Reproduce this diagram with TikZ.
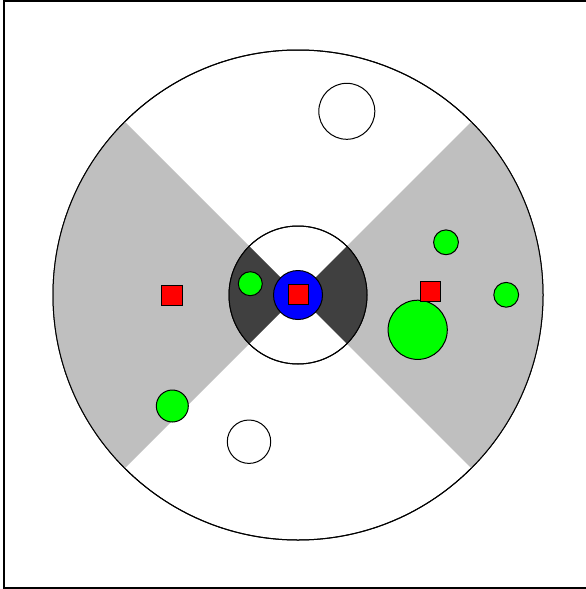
\documentclass[tikz,border=0pt]{standalone}
\begin{document}
\begin{tikzpicture}[x=1pt,y=-1pt,
  outline/.style={draw=black,line width=1pt},
  greendot/.style={outline,fill=green},
  whitedot/.style={outline,fill=white},
  redsq/.style={outline,fill=red},
  lightsector/.style={fill=black!25},
  darksector/.style={fill=black!75}]
\useasboundingbox (0,0) rectangle (586,589);
\fill[white] (0,0) rectangle (586,589);
\draw[line width=1.3pt] (4,1) rectangle (588,588);
% big disc
\coordinate (c) at (298,295);
\draw[outline,fill=white] (c) circle (245);
\fill[lightsector] (c) -- ++(-45:245) arc[start angle=-45,end angle=45,radius=245] -- cycle;
\fill[lightsector] (c) -- ++(135:245) arc[start angle=135,end angle=225,radius=245] -- cycle;
\draw[line width=1pt] (c) circle (245);
% inner disc
\draw[outline,fill=white] (c) circle (69);
\fill[darksector] (c) -- ++(-45:69) arc[start angle=-45,end angle=45,radius=69] -- cycle;
\fill[darksector] (c) -- ++(135:69) arc[start angle=135,end angle=225,radius=69] -- cycle;
\draw[line width=1pt] (c) circle (69);
% centre
\draw[outline,fill=blue] (c) circle (24.5);
\draw[redsq] (288.5,284.5) rectangle (308,304);
% inner green
\draw[greendot] (250.3,283.7) circle (12);
% white circles
\draw[whitedot] (346.8,111.3) circle (28);
\draw[whitedot] (249,441.7) circle (21.7);
% green dots
\draw[greendot] (172.3,406) circle (16);
\draw[greendot] (446,242.3) circle (12.4);
\draw[greendot] (506.2,294.8) circle (12.4);
\draw[greendot] (417.7,329.8) circle (29.6);
% red squares
\draw[redsq] (420.3,281.7) rectangle (440.3,301.7);
\draw[redsq] (161.8,285.5) rectangle (182,305.5);
\end{tikzpicture}
\end{document}
